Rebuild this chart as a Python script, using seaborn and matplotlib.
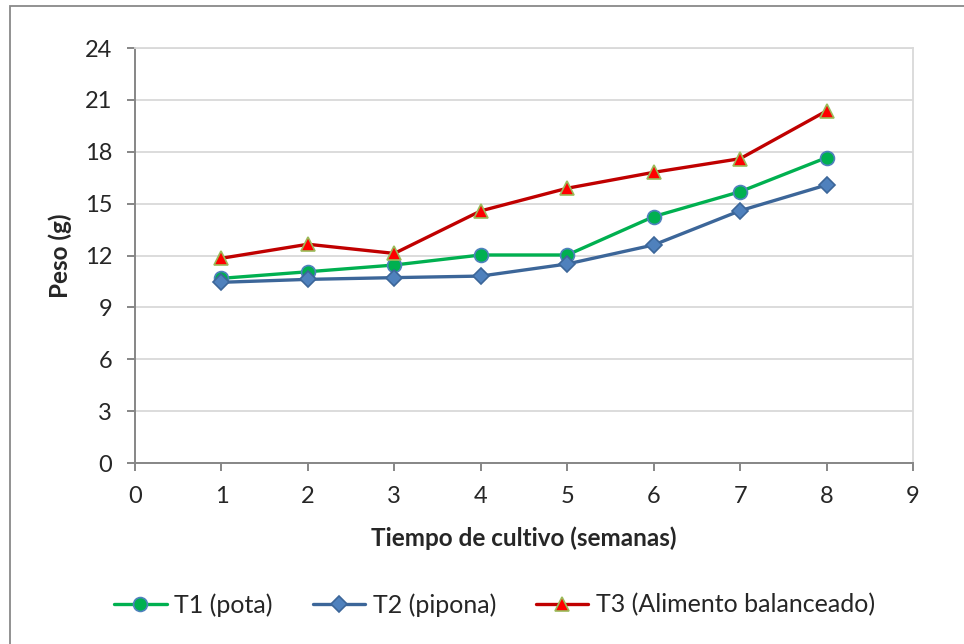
import numpy as np
import matplotlib.pyplot as plt
import pandas as pd
import seaborn as sns
from matplotlib.patches import Rectangle
sns.set_style("white")
plt.rcParams['font.family'] = ['Lato', 'DejaVu Sans']

# data
semanas = [1, 2, 3, 4, 5, 6, 7, 8]
t1_pota = [10.68, 11.06, 11.45, 12.03, 12.03, 14.25, 15.69, 17.66]
t2_pipona = [10.45, 10.62, 10.72, 10.81, 11.51, 12.61, 14.59, 16.08]
t3_alimento = [11.84, 12.65, 12.12, 14.58, 15.89, 16.81, 17.6, 20.36]
nombres = ["T1 (pota)", "T2 (pipona)", "T3 (Alimento balanceado)"]

df = pd.DataFrame({"semana": semanas, nombres[0]: t1_pota,
                   nombres[1]: t2_pipona, nombres[2]: t3_alimento})

estilos = {
    nombres[0]: dict(color='#00B050', marker='o', markerfacecolor='#00B050',
                     markeredgecolor='#4F81BD', markersize=10),
    nombres[1]: dict(color='#3C6699', marker='D', markerfacecolor='#4F81BD',
                     markeredgecolor='#3C6699', markersize=8.5),
    nombres[2]: dict(color='#C00000', marker='^', markerfacecolor='#FF0000',
                     markeredgecolor='#9BBB59', markersize=10.5),
}

fig = plt.figure(figsize=(9.64, 6.44), dpi=100)
ax = fig.add_axes([135/964, 1-463/644, (913-135)/964, (463-48)/644])

for n in nombres:
    sns.lineplot(data=df, x="semana", y=n, ax=ax, label=n, linewidth=2.4,
                 markeredgewidth=1.2, legend=False, **estilos[n])

ax.set_xlim(0, 9)
ax.set_ylim(0, 24)
ax.set_xticks(range(0, 10))
ax.set_yticks(range(0, 25, 3))
ax.yaxis.grid(True, color='#D9D9D9', linewidth=1.3)
ax.xaxis.grid(False)
for s in ['left', 'bottom']:
    ax.spines[s].set_color('#868686')
    ax.spines[s].set_linewidth(1.4)
for s in ['top', 'right']:
    ax.spines[s].set_color('#D9D9D9')
    ax.spines[s].set_linewidth(1.3)
ax.tick_params(axis='both', direction='out', length=5.5, width=1.4,
               color='#868686', labelsize=17, pad=11, left=True, bottom=True)
ax.set_xlabel("Tiempo de cultivo (semanas)", fontsize=17.5, fontweight='bold', va='center')
ax.set_ylabel("Peso (g)", fontsize=17.5, fontweight='bold', va='center')
ax.xaxis.set_label_coords(0.5, (463-538)/415)
ax.yaxis.set_label_coords((60-135)/778, 0.5)

handles, labels = ax.get_legend_handles_labels()
fig.legend(handles, labels, loc='center', bbox_to_anchor=(0.513, 1-605/644),
           ncol=3, frameon=False, fontsize=18, handlelength=2.1,
           handletextpad=0.3, columnspacing=1.6)

# outer chart border (only left and top visible)
fig.add_artist(Rectangle((10/964, -0.1), 1.5, 1-6/644+0.1, transform=fig.transFigure,
                         fill=False, edgecolor='#898989', linewidth=1.3))

fig.savefig("out.png", dpi=100, facecolor='white')
